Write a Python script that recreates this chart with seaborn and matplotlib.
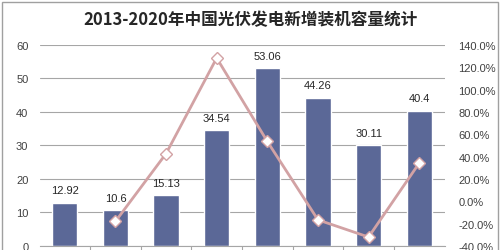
import matplotlib
matplotlib.use('Agg')
import matplotlib.pyplot as plt
import seaborn as sns
import pandas as pd
import numpy as np
from matplotlib.patches import Rectangle

sns.set_style('white')
plt.rcParams['font.family'] = ['Liberation Sans', 'Noto Sans CJK SC', 'DejaVu Sans']

# data
years = ['2013', '2014', '2015', '2016', '2017', '2018', '2019', '2020']
capacity = [12.92, 10.6, 15.13, 34.54, 53.06, 44.26, 30.11, 40.4]
growth = [np.nan, -18.0, 42.7, 128.3, 53.6, -16.6, -32.0, 34.2]
title = '2013-2020年中国光伏发电新增装机容量统计'

df = pd.DataFrame({'year': years, 'capacity': capacity, 'growth': growth})

fig = plt.figure(figsize=(5.0, 2.51), dpi=100)
ax = fig.add_axes([0.079, 0.016, 0.81, 0.801])

sns.barplot(data=df, x='year', y='capacity', color='#5B6897', width=0.5,
            saturation=1, ax=ax, zorder=2)
ax.set_ylim(0, 60)
ax.set_xlim(-0.5, 7.5)
ax.set_yticks(range(0, 61, 10))
ax.yaxis.grid(True, color='#A6A6A6', linewidth=0.8, zorder=0)
ax.set_axisbelow(True)
ax.set_xlabel('')
ax.set_ylabel('')
ax.set_xticks([])
for s in ['top', 'right', 'left']:
    ax.spines[s].set_visible(False)
ax.spines['bottom'].set_color('#A6A6A6')
ax.tick_params(axis='y', labelsize=8, colors='#404040', length=0, pad=8)
for i, v in enumerate(capacity):
    ax.text(i, v + 2.2, f'{v:g}', ha='center', va='bottom', fontsize=8, color='#262626')
# category boundary ticks
for b in np.arange(0.5, 7.5, 1):
    ax.plot([b, b], [0, -1.2], color='#A6A6A6', lw=0.8, clip_on=False)

ax2 = ax.twinx()
sns.lineplot(x=np.arange(len(years)), y=growth, ax=ax2, color='#D2A2A4', lw=2,
             marker='D', markersize=6, markerfacecolor='white',
             markeredgecolor='#D2A2A4', markeredgewidth=1)
ax2.set_ylim(-40, 140)
ax2.set_yticks(range(-40, 141, 20))
ax2.set_yticklabels([f'{t:.1f}%' for t in range(-40, 141, 20)])
ax2.tick_params(axis='y', labelsize=8, colors='#404040', length=0, pad=10)
for s in ax2.spines.values():
    s.set_visible(False)
ax2.set_xlim(-0.5, 7.5)

fig.text(0.5, 0.92, title, ha='center', va='center', fontsize=12, fontweight='bold',
         color='#262626', family=['Noto Sans CJK SC', 'DejaVu Sans'])
fig.patches.append(Rectangle((0.004, -0.1), 0.992, 1.09, transform=fig.transFigure,
                             fill=False, edgecolor='#A0A0A0', lw=1))

fig.savefig('out.png', dpi=100)
